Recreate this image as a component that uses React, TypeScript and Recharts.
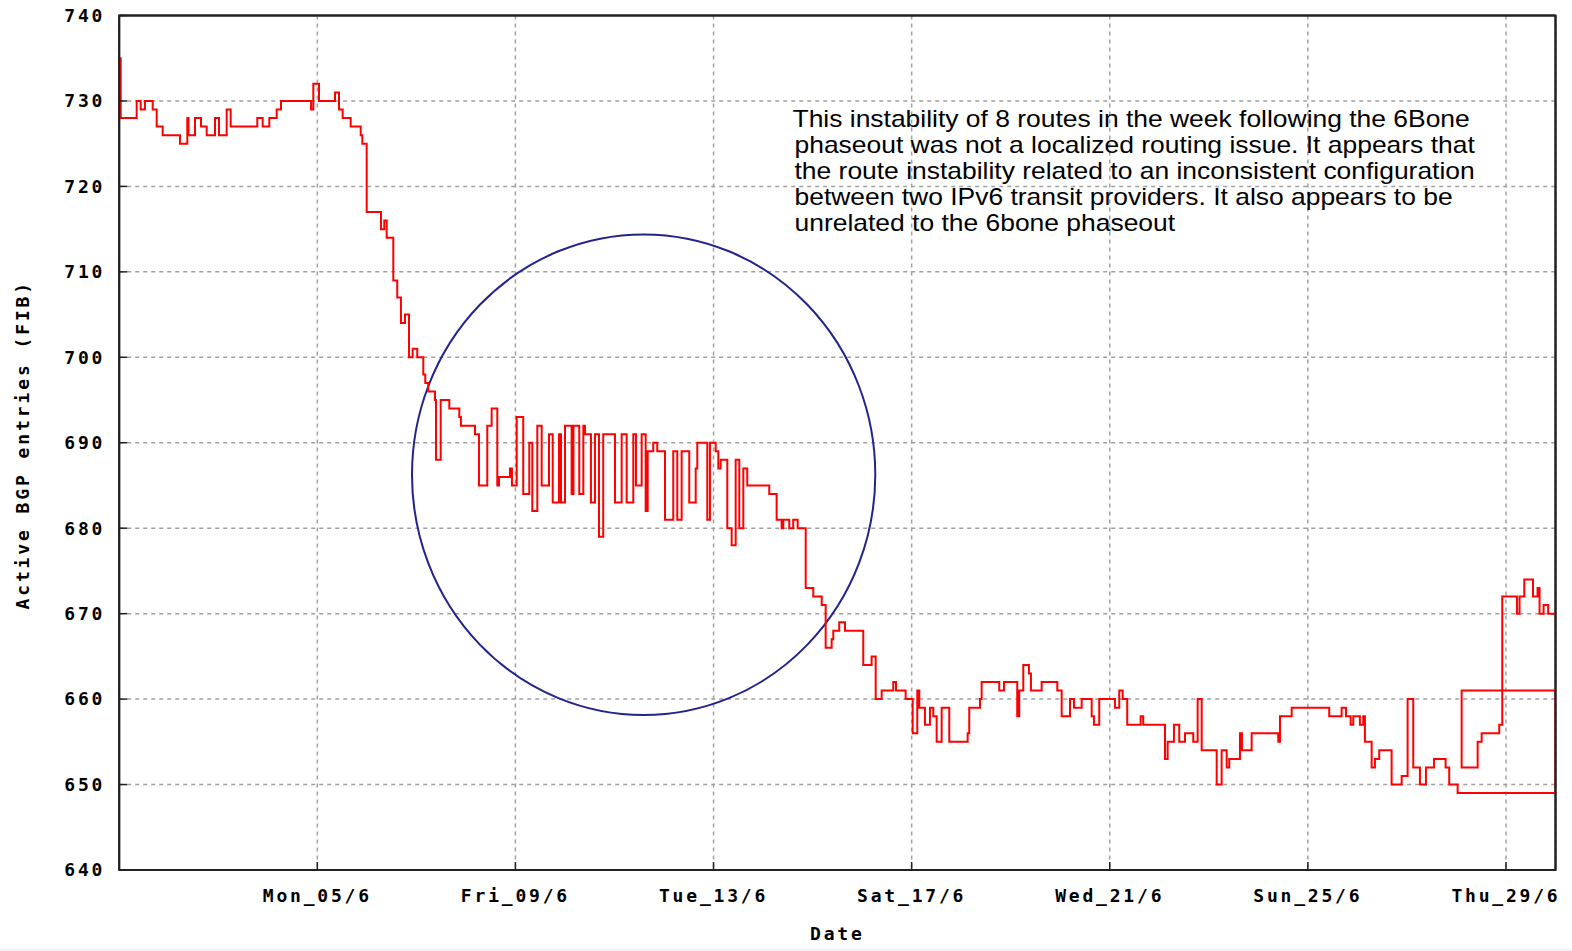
import React from 'react';
import { LineChart, Line, XAxis, YAxis, CartesianGrid, ReferenceArea } from 'recharts';

// time in days of June (decimal), step value starts at that time
const stepDays: number[] = [
  1.0, 1.03, 1.353, 1.434, 1.52, 1.676, 1.757, 1.878, 2.227, 2.375, 2.399, 2.53, 2.652, 2.767, 2.934, 3.015,
  3.17, 3.251, 3.788, 3.897, 4.031, 4.18, 4.267, 4.874, 4.919, 5.034, 5.357, 5.438, 5.512, 5.674, 5.876, 5.909,
  5.997, 6.286, 6.352, 6.401, 6.534, 6.614, 6.689, 6.77, 6.851, 6.925, 7.018, 7.14, 7.18, 7.24, 7.376, 7.396,
  7.491, 7.665, 7.867, 7.9, 8.184, 8.264, 8.432, 8.52, 8.634, 8.668, 8.89, 8.93, 9.026, 9.158, 9.28, 9.341,
  9.442, 9.53, 9.678, 9.753, 9.879, 9.92, 10.001, 10.135, 10.172, 10.289, 10.371, 10.405, 10.525, 10.606, 10.687, 10.773,
  11.01, 11.145, 11.246, 11.38, 11.434, 11.549, 11.63, 11.67, 11.783, 11.864, 12.02, 12.187, 12.268, 12.356, 12.51, 12.64,
  12.672, 12.874, 12.928, 13.043, 13.096, 13.144, 13.278, 13.366, 13.447, 13.52, 13.601, 13.681, 14.125, 14.274, 14.375, 14.408,
  14.529, 14.609, 14.699, 14.861, 15.014, 15.184, 15.264, 15.385, 15.418, 15.538, 15.654, 16.023, 16.192, 16.274, 16.395, 16.629,
  16.684, 16.879, 17.021, 17.114, 17.154, 17.269, 17.37, 17.437, 17.505, 17.606, 17.76, 18.131, 18.163, 18.38, 18.413, 18.769,
  18.864, 19.132, 19.172, 19.254, 19.368, 19.409, 19.625, 19.941, 20.029, 20.197, 20.278, 20.433, 20.635, 20.681, 20.788, 21.105,
  21.192, 21.261, 21.353, 21.624, 21.676, 22.115, 22.169, 22.296, 22.403, 22.519, 22.686, 22.775, 22.856, 23.159, 23.259, 23.361,
  23.413, 23.629, 23.669, 23.865, 24.402, 24.437, 24.673, 25.431, 25.682, 25.769, 25.864, 25.917, 26.051, 26.118, 26.152, 26.288,
  26.354, 26.441, 26.691, 26.894, 27.014, 27.128, 27.263, 27.384, 27.546, 27.781, 27.854, 28.024, 30.0, 30.0, 28.105, 28.105,
  28.428, 28.509, 28.864, 28.925, 29.222, 29.274, 29.37, 29.546, 29.638, 29.678, 29.759, 29.852, 30.0,
];

const bgpEntries: number[] = [
  735, 728, 730, 729, 730, 729, 727, 726, 725, 728, 726, 728, 727, 726, 728, 726,
  729, 727, 728, 727, 728, 729, 730, 729, 732, 730, 731, 729, 728, 727, 726, 725,
  717, 715, 716, 714, 709, 707, 704, 705, 700, 701, 700, 698, 697, 696, 695, 688,
  695, 694, 693, 692, 691, 685, 692, 694, 685, 686, 687, 685, 693, 684, 690, 682,
  692, 685, 691, 683, 691, 683, 692, 684, 692, 684, 692, 691, 683, 691, 679, 691,
  683, 691, 683, 691, 685, 691, 682, 689, 690, 689, 681, 689, 681, 689, 683, 687,
  690, 681, 690, 689, 687, 688, 680, 678, 688, 680, 687, 685, 684, 681, 680, 681,
  680, 681, 680, 673, 672, 671, 666, 667, 668, 669, 668, 664, 665, 660, 661, 662,
  661, 660, 656, 661, 659, 657, 659, 658, 655, 659, 655, 656, 659, 660, 662, 661,
  662, 658, 661, 664, 663, 661, 662, 661, 658, 660, 659, 660, 658, 657, 660, 659,
  661, 660, 657, 658, 657, 653, 655, 657, 655, 656, 655, 660, 654, 650, 654, 652,
  653, 656, 654, 656, 655, 658, 659, 658, 659, 658, 657, 658, 657, 658, 655, 652,
  653, 654, 650, 651, 660, 652, 650, 652, 653, 652, 650, 649, 649, 661, 661, 652,
  655, 656, 657, 672, 670, 672, 674, 672, 673, 670, 671, 670, 670,
];

const xTickDays: number[] = [5, 9, 13, 17, 21, 25, 29];
const xTickLabels: string[] = ['Mon_05/6', 'Fri_09/6', 'Tue_13/6', 'Sat_17/6', 'Wed_21/6', 'Sun_25/6', 'Thu_29/6'];
const yTicks: number[] = [640, 650, 660, 670, 680, 690, 700, 710, 720, 730, 740];
const xDomain: number[] = [1, 30];
const yDomain: number[] = [640, 740];

const noteLines: string[] = [
  'This instability of 8 routes in the week following the 6Bone',
  'phaseout was not a localized routing issue. It appears that',
  'the route instability related to an inconsistent configuration',
  'between two IPv6 transit providers. It also appears to be',
  'unrelated to the 6bone phaseout',
];

// circled region (days / entries)
const circleDays: number[] = [6.912, 16.266];
const circleEntries: number[] = [658.14, 714.38];

const data = stepDays.map((d, i) => ({ d, v: bgpEntries[i] }));

const monoFont = "'DejaVu Sans Mono', 'Liberation Mono', monospace";
const tickStyle = { fill: '#000', fontSize: 18, fontFamily: monoFont, fontWeight: 'bold', letterSpacing: 2.8 };

const xLabelOf = (d: number) => {
  const i = xTickDays.indexOf(d);
  return i >= 0 ? xTickLabels[i] : '';
};

const renderYLabel = (props: any) => {
  const vb = props.viewBox || { x: 0, y: 15.5, width: 119.2, height: 854.5 };
  const cx = vb.x + 29;
  const cy = vb.y + vb.height / 2 + 2;
  return (
    <text
      x={cx}
      y={cy}
      transform={`rotate(-90, ${cx}, ${cy})`}
      textAnchor="middle"
      fill="#000"
      style={{ fontSize: 18, fontFamily: monoFont, fontWeight: 'bold', letterSpacing: 2.9 }}
    >
      Active BGP entries (FIB)
    </text>
  );
};

const renderXLabel = (props: any) => {
  const vb = props.viewBox || { x: 119.2, y: 870, width: 1436, height: 61 };
  return (
    <text
      x={vb.x + vb.width / 2}
      y={vb.y + 70}
      textAnchor="middle"
      fill="#000"
      style={{ fontSize: 18, fontFamily: monoFont, fontWeight: 'bold', letterSpacing: 2.8 }}
    >
      Date
    </text>
  );
};

const Ellipse = (props: any) => {
  const { x, y, width, height } = props;
  return (
    <ellipse
      cx={x + width / 2}
      cy={y + height / 2}
      rx={Math.abs(width) / 2}
      ry={Math.abs(height) / 2}
      fill="none"
      stroke="#23238c"
      strokeWidth={2}
    />
  );
};

const Frame = (props: any) => {
  const { x, y, width, height } = props;
  return <rect x={x} y={y} width={width} height={height} fill="none" stroke="#222" strokeWidth={2} />;
};

const axisLine = { stroke: '#222', strokeWidth: 2 };
const tickLine = { stroke: '#222', strokeWidth: 1.5 };

export default function App() {
  return (
    <div style={{ position: 'absolute', left: 0, top: 0, width: 1572, height: 951, background: '#fff' }}>
      <LineChart width={1572} height={951} data={data} margin={{ top: 14.5, right: 15.5, bottom: 20, left: 0 }}>
        <CartesianGrid stroke="#a0a0a0" strokeDasharray="4 4" strokeWidth={1.5} />
        <XAxis
          dataKey="d"
          type="number"
          domain={xDomain}
          ticks={xTickDays}
          interval={0}
          tickFormatter={xLabelOf}
          height={61}
          tickSize={-8}
          tickMargin={27}
          axisLine={axisLine}
          tickLine={tickLine}
          tick={tickStyle}
          label={renderXLabel}
          allowDataOverflow
        />
        <XAxis
          xAxisId="top"
          orientation="top"
          dataKey="d"
          type="number"
          domain={xDomain}
          ticks={xTickDays}
          interval={0}
          height={1}
          tickSize={-8}
          axisLine={axisLine}
          tickLine={tickLine}
          tick={false}
          allowDataOverflow
        />
        <YAxis
          type="number"
          domain={yDomain}
          ticks={yTicks}
          interval={0}
          width={119.2}
          tickSize={-8}
          tickMargin={22}
          axisLine={axisLine}
          tickLine={tickLine}
          tick={tickStyle}
          label={renderYLabel}
          allowDataOverflow
        />
        <YAxis
          yAxisId="right"
          orientation="right"
          type="number"
          domain={yDomain}
          ticks={yTicks}
          interval={0}
          width={1}
          tickSize={-8}
          axisLine={axisLine}
          tickLine={tickLine}
          tick={false}
          allowDataOverflow
        />
        <Line
          dataKey="v"
          type="stepAfter"
          stroke="#ff0000"
          strokeWidth={2}
          dot={false}
          activeDot={false}
          isAnimationActive={false}
        />
        <Line
          dataKey="v"
          xAxisId="top"
          yAxisId="right"
          type="stepAfter"
          stroke="none"
          strokeWidth={0}
          dot={false}
          activeDot={false}
          legendType="none"
          isAnimationActive={false}
        />
        <ReferenceArea
          x1={xDomain[0]}
          x2={xDomain[1]}
          y1={yDomain[0]}
          y2={yDomain[1]}
          shape={<Frame />}
          ifOverflow="visible"
        />
        <ReferenceArea
          x1={circleDays[0]}
          x2={circleDays[1]}
          y1={circleEntries[0]}
          y2={circleEntries[1]}
          shape={<Ellipse />}
          ifOverflow="visible"
        />
      </LineChart>
      <svg
        width={1572}
        height={951}
        style={{ position: 'absolute', left: 0, top: 0, pointerEvents: 'none' }}
      >
        {noteLines.map((t, i) => (
          <text
            key={i}
            x={0}
            y={0}
            transform={`translate(${i === 0 ? 792.5 : 794.5}, ${127.3 + i * 25.8}) scale(1.15, 1)`}
            fill="#000"
            style={{ fontSize: 23, fontFamily: "'Liberation Sans', Arial, sans-serif" }}
          >
            {t}
          </text>
        ))}
      </svg>
      <div style={{ position: 'absolute', left: 0, top: 949, width: 1572, height: 2, background: '#eaf2f7' }} />
    </div>
  );
}
